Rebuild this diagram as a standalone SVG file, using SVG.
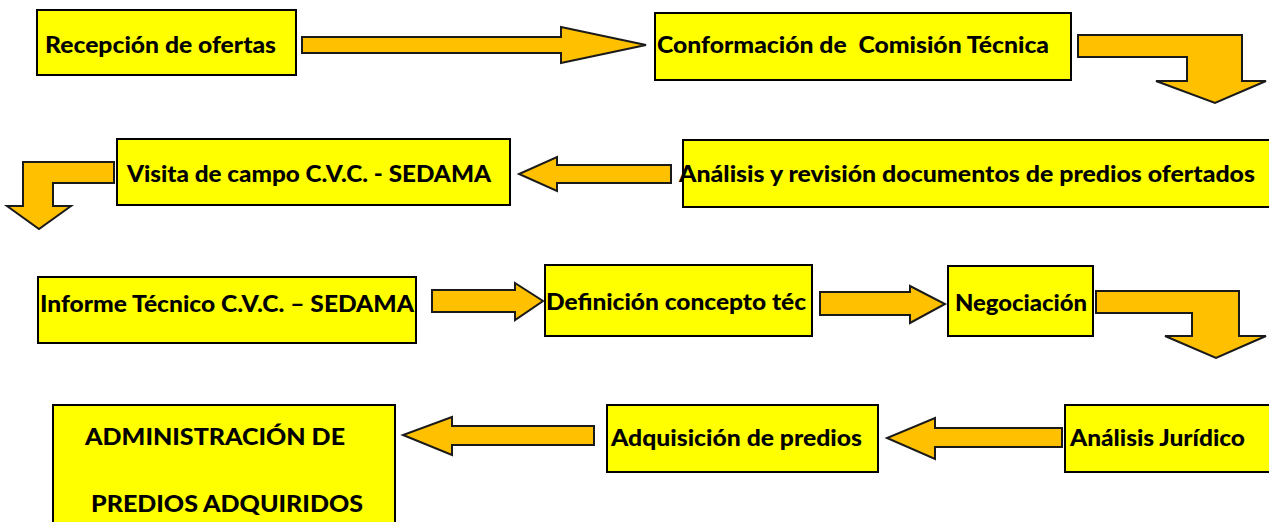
<svg xmlns="http://www.w3.org/2000/svg" width="1269" height="522" viewBox="0 0 1269 522">
<style>
.box{fill:#FFFF00;stroke:#000;stroke-width:2}
.arr{fill:#FFC000;stroke:#1a1a1a;stroke-width:2;stroke-linejoin:miter}
.t{font-family:Lato,"Liberation Sans",sans-serif;font-weight:900;font-size:23px;fill:#000}
</style>
<rect width="1269" height="522" fill="#fff"/>
<g id="n1"><rect class="box" x="37" y="10" width="259" height="65"/><text class="t" x="45" y="53" textLength="231" lengthAdjust="spacingAndGlyphs">Recepción de ofertas</text></g>
<g id="n2"><rect class="box" x="655" y="13" width="416" height="67"/><text class="t" x="657" y="53" textLength="392" lengthAdjust="spacingAndGlyphs" xml:space="preserve">Conformación de  Comisión Técnica</text></g>
<g id="n3"><rect class="box" x="117" y="139" width="393" height="66"/><text class="t" x="127" y="182" textLength="364" lengthAdjust="spacingAndGlyphs">Visita de campo C.V.C. - SEDAMA</text></g>
<g id="n4"><rect class="box" x="683" y="140" width="590" height="67"/><text class="t" x="679" y="182" textLength="576" lengthAdjust="spacingAndGlyphs">Análisis y revisión documentos de predios ofertados</text></g>
<g id="n5"><rect class="box" x="38" y="277" width="378" height="66"/><text class="t" x="40" y="312" textLength="374" lengthAdjust="spacingAndGlyphs">Informe Técnico C.V.C. – SEDAMA</text></g>
<g id="n6"><rect class="box" x="545" y="265" width="267" height="71"/><text class="t" x="546" y="310" textLength="260" lengthAdjust="spacingAndGlyphs">Definición concepto téc</text></g>
<g id="n7"><rect class="box" x="948" y="266" width="145" height="70"/><text class="t" x="955" y="311" textLength="132" lengthAdjust="spacingAndGlyphs">Negociación</text></g>
<g id="n8"><rect class="box" x="53" y="405" width="342" height="130"/><text class="t" x="85" y="445" textLength="260" lengthAdjust="spacingAndGlyphs">ADMINISTRACIÓN DE</text><text class="t" x="91" y="512" textLength="272" lengthAdjust="spacingAndGlyphs">PREDIOS ADQUIRIDOS</text></g>
<g id="n9"><rect class="box" x="607" y="405" width="271" height="67"/><text class="t" x="611" y="446" textLength="251" lengthAdjust="spacingAndGlyphs">Adquisición de predios</text></g>
<g id="n10"><rect class="box" x="1065" y="405" width="210" height="67"/><text class="t" x="1070" y="446" textLength="175" lengthAdjust="spacingAndGlyphs">Análisis Jurídico</text></g>
<g id="connectors">
<polygon class="arr" points="302,37 561,37 561,27 646,45 561,63 561,53 302,53"/>
<polygon class="arr" points="1078,35 1242,35 1242,81 1266,81 1215,103 1156,81 1187,81 1187,57 1078,57"/>
<polygon class="arr" points="671,165 557,165 557,157 519,174 557,191 557,183 671,183"/>
<polygon class="arr" points="114,162 23,162 23,206 7,206 39,229 71,206 53,206 53,183 114,183"/>
<polygon class="arr" points="432,290 515,290 515,283 543,301 515,320 515,312 432,312"/>
<polygon class="arr" points="820,292 910,292 910,286 945,304 910,323 910,315 820,315"/>
<polygon class="arr" points="1096,291 1239,291 1239,336 1266,336 1216,358 1165,336 1192,336 1192,313 1096,313"/>
<polygon class="arr" points="1062,428 935,428 935,418 887,438 935,459 935,447 1062,447"/>
<polygon class="arr" points="594,426 452,426 452,417 403,435 452,455 452,445 594,445"/>
</g>
</svg>
